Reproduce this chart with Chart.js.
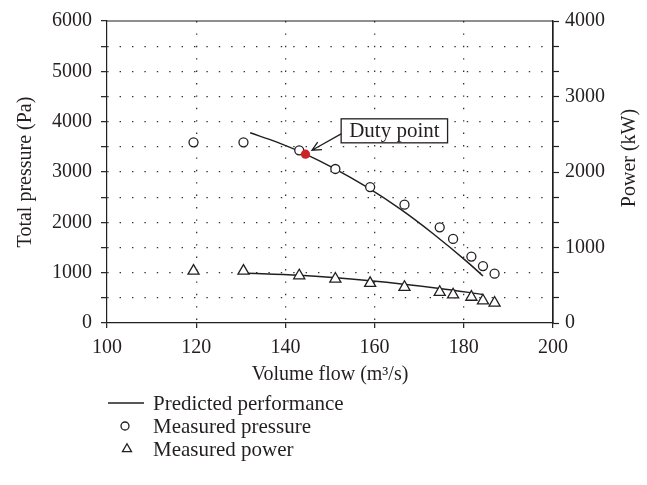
<!DOCTYPE html>
<html lang="en">
<head>
<meta charset="utf-8">
<script src="https://cdn.jsdelivr.net/npm/chart.js@4.4.1/dist/chart.umd.min.js"></script>
<style>
  body { margin: 0; background: #fff; }
  #wrap { width: 647px; height: 485px; }
</style>
</head>
<body>
<div id="wrap"><canvas id="chart" width="647" height="485"></canvas></div>
<script>
// values
var predFlowP    = [132.1, 138.1, 144.5, 150.8, 158.3, 165.8, 173.2, 180.7, 184.3];
var predPressure = [3779, 3593, 3355, 3077, 2698, 2261, 1768, 1219, 934];
var predFlowW    = [130.6, 143.1, 159.0, 174.6, 184.3];
var predPower    = [662, 632, 558, 457, 379];

var measFlow     = [119.4, 130.6, 143.1, 151.2, 159.0, 166.7, 174.6, 177.6, 181.7, 184.3, 186.9];
var measPressure = [3590, 3590, 3430, 3060, 2700, 2350, 1900, 1670, 1320, 1130, 980];
var measPower    = [689, 689, 628, 584, 527, 475, 409, 375, 344, 296, 266];

var dutyFlow     = [144.5];
var dutyPressure = [3355];

var legendLabels = ["Predicted performance", "Measured pressure", "Measured power"];

var FONT = "'Liberation Serif', 'Times New Roman', serif";
var INK = "#231f20";

function zip(xs, ys) {
  return xs.map(function(x, i) { return {x: x, y: ys[i]}; });
}

// frame, right-hand title, duty point callout and legend
var extras = {
  id: 'extras',
  afterDraw: function(chart) {
    var ctx = chart.ctx, a = chart.chartArea;
    var sx = chart.scales.x, sy = chart.scales.y;

    ctx.save();
    ctx.strokeStyle = INK;
    ctx.lineWidth = 1.2;
    ctx.beginPath();
    ctx.moveTo(a.left, a.top);
    ctx.lineTo(a.right, a.top);
    ctx.lineTo(a.right, a.bottom);
    ctx.stroke();

    // right axis title, reads bottom to top
    ctx.fillStyle = INK;
    ctx.font = "20px " + FONT;
    ctx.textAlign = "center";
    ctx.textBaseline = "middle";
    ctx.translate(630, 158);
    ctx.rotate(-Math.PI / 2);
    ctx.fillText("Power (kW)", 0, 0);
    ctx.restore();

    // callout box
    ctx.save();
    ctx.font = "21px " + FONT;
    var bx = sx.getPixelForValue(152.5), by = sy.getPixelForValue(3818);
    var tw = ctx.measureText("Duty point").width;
    var bw = tw + 16, bh = 24;
    ctx.fillStyle = "#fff";
    ctx.fillRect(bx, by - bh / 2, bw, bh);
    ctx.strokeStyle = INK;
    ctx.lineWidth = 1.3;
    ctx.strokeRect(bx, by - bh / 2, bw, bh);
    ctx.fillStyle = INK;
    ctx.textBaseline = "middle";
    ctx.fillText("Duty point", bx + 8, by + 1);

    // arrow to the duty point
    var tx = sx.getPixelForValue(145.96), ty = sy.getPixelForValue(3433);
    var fx = bx, fy = by + 3;
    var ang = Math.atan2(fy - ty, fx - tx);
    ctx.beginPath();
    ctx.moveTo(fx, fy);
    ctx.lineTo(tx, ty);
    ctx.moveTo(tx + 10 * Math.cos(ang - 0.45), ty + 10 * Math.sin(ang - 0.45));
    ctx.lineTo(tx, ty);
    ctx.lineTo(tx + 10 * Math.cos(ang + 0.45), ty + 10 * Math.sin(ang + 0.45));
    ctx.stroke();
    ctx.restore();

    // legend
    ctx.save();
    ctx.strokeStyle = INK;
    ctx.fillStyle = INK;
    ctx.lineWidth = 1.3;
    var rows = [403, 426, 449];
    ctx.beginPath();
    ctx.moveTo(108, rows[0]);
    ctx.lineTo(144, rows[0]);
    ctx.stroke();
    ctx.beginPath();
    ctx.arc(125, rows[1], 4, 0, Math.PI * 2);
    ctx.stroke();
    var r = 5.2;
    ctx.beginPath();
    ctx.moveTo(127, rows[2] - r);
    ctx.lineTo(127 + r * 0.866, rows[2] + r / 2);
    ctx.lineTo(127 - r * 0.866, rows[2] + r / 2);
    ctx.closePath();
    ctx.stroke();
    ctx.font = "21px " + FONT;
    ctx.textBaseline = "middle";
    ctx.textAlign = "left";
    legendLabels.forEach(function(t, i) { ctx.fillText(t, 153, rows[i] + 1); });
    ctx.restore();
  }
};

var dots = [1.4, 11];

new Chart(document.getElementById("chart"), {
  type: "scatter",
  data: {
    datasets: [
      {
        label: "Duty point",
        data: zip(dutyFlow, dutyPressure),
        yAxisID: "y",
        pointRadius: 4.6,
        pointBackgroundColor: "#cc2229",
        pointBorderColor: "#cc2229",
        pointBorderWidth: 0
      },
      {
        label: "Measured pressure",
        data: zip(measFlow, measPressure),
        yAxisID: "y",
        pointStyle: "circle",
        pointRadius: 4.5,
        pointBackgroundColor: "#fff",
        pointBorderColor: INK,
        pointBorderWidth: 1.3
      },
      {
        label: "Measured power",
        data: zip(measFlow, measPower),
        yAxisID: "y1",
        pointStyle: "triangle",
        pointRadius: 6.4,
        pointBackgroundColor: "#fff",
        pointBorderColor: INK,
        pointBorderWidth: 1.3
      },
      {
        label: "Predicted pressure",
        data: zip(predFlowP, predPressure),
        yAxisID: "y",
        showLine: true,
        pointRadius: 0,
        borderColor: INK,
        borderWidth: 1.5,
        cubicInterpolationMode: "monotone"
      },
      {
        label: "Predicted power",
        data: zip(predFlowW, predPower),
        yAxisID: "y1",
        showLine: true,
        pointRadius: 0,
        borderColor: INK,
        borderWidth: 1.5,
        cubicInterpolationMode: "monotone"
      }
    ]
  },
  options: {
    responsive: false,
    animation: false,
    devicePixelRatio: 1,
    layout: { padding: { top: 18, bottom: 92, left: 0, right: 0 } },
    plugins: { legend: { display: false }, tooltip: { enabled: false } },
    scales: {
      x: {
        type: "linear",
        position: "bottom",
        min: 100,
        max: 200,
        ticks: { stepSize: 20, autoSkip: false, color: INK, font: { family: FONT, size: 20 }, padding: 8, maxRotation: 0 },
        grid: {
          color: function(c) { return (c.tick && (c.tick.value === 100 || c.tick.value === 200)) ? "rgba(0,0,0,0)" : "#333"; },
          lineWidth: 1.3,
          tickLength: 5,
          tickColor: INK,
          tickWidth: 1.2
        },
        border: { display: true, color: INK, width: 1.2, dash: dots },
        title: {
          display: true,
          text: "Volume flow (m\u00b3/s)",
          color: INK,
          font: { family: FONT, size: 20, lineHeight: 1.2 },
          padding: { top: 0, bottom: 6 }
        },
        afterFit: function(s) { s.height = 70; }
      },
      y: {
        position: "left",
        min: 0,
        max: 6000,
        ticks: {
          stepSize: 500,
          autoSkip: false,
          color: INK,
          font: { family: FONT, size: 20 },
          padding: 9,
          callback: function(v) { return v % 1000 === 0 ? v : ""; }
        },
        grid: {
          color: function(c) { return (c.tick && (c.tick.value === 0 || c.tick.value === 6000)) ? "rgba(0,0,0,0)" : "#333"; },
          lineWidth: 1.3,
          tickLength: 6,
          tickColor: INK,
          tickWidth: 1.2
        },
        border: { display: true, color: INK, width: 1.2, dash: dots },
        title: {
          display: true,
          text: "Total pressure (Pa)",
          color: INK,
          font: { family: FONT, size: 20, lineHeight: 1.2 },
          padding: { top: 14, bottom: 0 }
        },
        afterFit: function(s) { s.width = 107; }
      },
      y1: {
        position: "right",
        min: 0,
        max: 4000,
        ticks: {
          stepSize: 4000 / 12,
          autoSkip: false,
          color: INK,
          font: { family: FONT, size: 20 },
          padding: 6,
          callback: function(v) {
            var k = Math.round(v / 1000) * 1000;
            return Math.abs(v - k) < 1 ? k : "";
          }
        },
        grid: {
          drawOnChartArea: false,
          tickLength: 6,
          tickColor: INK,
          tickWidth: 1.2
        },
        border: { display: true, color: INK, width: 1.2 },
        afterFit: function(s) { s.width = 94; }
      }
    }
  },
  plugins: [extras]
});
</script>
</body>
</html>
